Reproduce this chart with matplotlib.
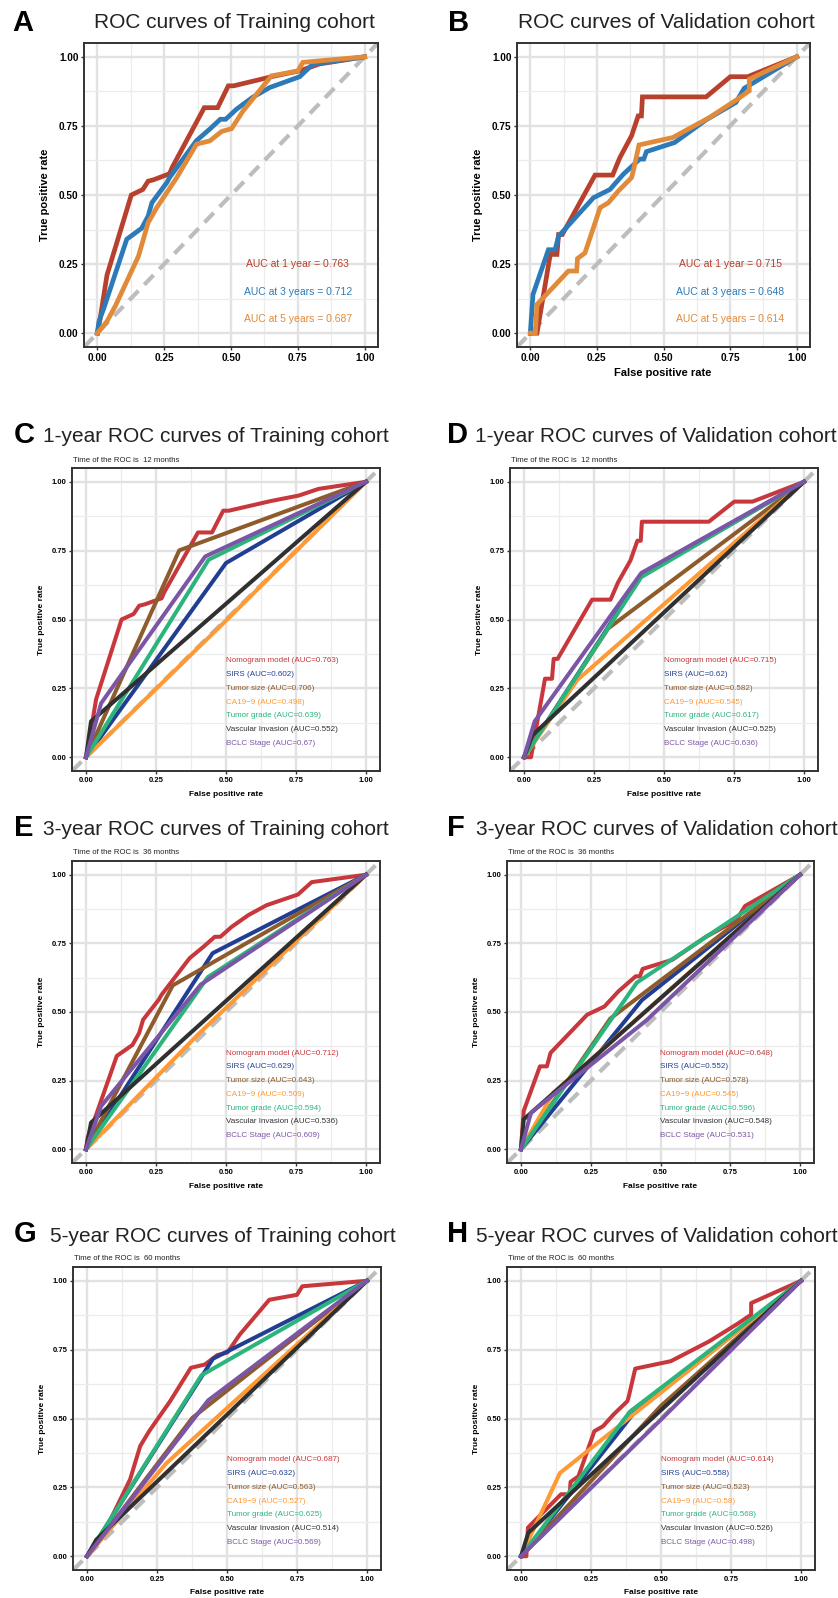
import matplotlib
matplotlib.use("Agg")
import matplotlib.pyplot as plt

plt.rcParams['font.family'] = ['Liberation Sans', 'DejaVu Sans']

W, H = 838, 1598

# Nomogram model curves (FPR, TPR)
train_1y_fpr = [0, 0.01, 0.036, 0.127, 0.17, 0.19, 0.21, 0.27, 0.28, 0.40, 0.45, 0.49, 0.51, 0.66, 0.76, 0.83, 1]
train_1y_tpr = [0, 0.05, 0.21, 0.50, 0.52, 0.55, 0.555, 0.577, 0.60, 0.816, 0.816, 0.895, 0.895, 0.93, 0.95, 0.974, 1]
train_3y_fpr = [0, 0.006, 0.024, 0.11, 0.166, 0.19, 0.204, 0.26, 0.27, 0.37, 0.42, 0.46, 0.48, 0.52, 0.58, 0.645, 0.757, 0.806, 1]
train_3y_tpr = [0, 0.043, 0.09, 0.34, 0.38, 0.424, 0.472, 0.545, 0.563, 0.696, 0.738, 0.774, 0.774, 0.81, 0.853, 0.889, 0.928, 0.973, 1]
train_5y_fpr = [0, 0.036, 0.067, 0.154, 0.19, 0.222, 0.297, 0.371, 0.421, 0.465, 0.502, 0.545, 0.651, 0.75, 0.769, 1]
train_5y_tpr = [0, 0.043, 0.098, 0.279, 0.40, 0.454, 0.563, 0.684, 0.696, 0.73, 0.74, 0.804, 0.931, 0.949, 0.98, 1]
valid_1y_fpr = [0, 0.025, 0.075, 0.1, 0.106, 0.12, 0.243, 0.309, 0.336, 0.38, 0.405, 0.417, 0.421, 0.66, 0.751, 0.816, 1]
valid_1y_tpr = [0, 0, 0.285, 0.285, 0.357, 0.357, 0.572, 0.572, 0.635, 0.714, 0.786, 0.786, 0.855, 0.855, 0.928, 0.928, 1]
valid_3y_fpr = [0, 0.01, 0.068, 0.093, 0.106, 0.237, 0.299, 0.349, 0.411, 0.426, 0.436, 0.542, 0.66, 0.772, 0.803, 1]
valid_3y_tpr = [0, 0.14, 0.302, 0.302, 0.351, 0.49, 0.52, 0.575, 0.63, 0.63, 0.657, 0.69, 0.772, 0.835, 0.886, 1]
valid_5y_fpr = [0, 0.019, 0.025, 0.143, 0.174, 0.177, 0.205, 0.262, 0.293, 0.33, 0.38, 0.385, 0.408, 0.535, 0.672, 0.772, 0.822, 0.822, 1]
valid_5y_tpr = [0, 0, 0.104, 0.225, 0.225, 0.27, 0.29, 0.454, 0.472, 0.514, 0.563, 0.58, 0.681, 0.708, 0.78, 0.843, 0.877, 0.919, 1]

year_labels = ["1 year", "3 years", "5 years"]
auc_train = [0.763, 0.712, 0.687]
auc_valid = [0.715, 0.648, 0.614]

variables = ["SIRS", "Tumor size", "CA19\u22129", "Tumor grade", "Vascular Invasion", "BCLC Stage"]

# single-factor curves per panel: (fpr, tpr)
panel_C = [([0, 0.5, 1], [0, 0.705, 1]), ([0, 0.333, 1], [0, 0.751, 1]), ([0, 0.5, 1], [0, 0.496, 1]),
           ([0, 0.438, 1], [0, 0.717, 1]), ([0, 0.018, 1], [0, 0.13, 1]), ([0, 0.054, 0.426, 1], [0, 0.196, 0.729, 1])]
panel_D = [([0, 0.419, 1], [0, 0.659, 1]), ([0, 0.3, 1], [0, 0.467, 1]), ([0, 0.19, 1], [0, 0.28, 1]),
           ([0, 0.419, 1], [0, 0.654, 1]), ([0, 0.03, 1], [0, 0.08, 1]), ([0, 0.038, 0.419, 1], [0, 0.13, 0.669, 1])]
panel_E = [([0, 0.452, 1], [0, 0.714, 1]), ([0, 0.31, 1], [0, 0.597, 1]), ([0, 0.4, 1], [0, 0.418, 1]),
           ([0, 0.435, 1], [0, 0.627, 1]), ([0, 0.018, 1], [0, 0.097, 1]), ([0, 0.054, 0.41, 1], [0, 0.157, 0.6, 1])]
panel_F = [([0, 0.433, 1], [0, 0.543, 1]), ([0, 0.32, 1], [0, 0.476, 1]), ([0, 0.117, 1], [0, 0.207, 1]),
           ([0, 0.415, 1], [0, 0.607, 1]), ([0, 0.01, 1], [0, 0.109, 1]), ([0, 0.036, 0.45, 1], [0, 0.133, 0.47, 1])]
panel_G = [([0, 0.45, 1], [0, 0.717, 1]), ([0, 0.377, 1], [0, 0.503, 1]), ([0, 0.284, 1], [0, 0.338, 1]),
           ([0, 0.409, 1], [0, 0.657, 1]), ([0, 0.033, 1], [0, 0.06, 1]), ([0, 0.433, 1], [0, 0.566, 1])]
panel_H = [([0, 0.4, 1], [0, 0.516, 1]), ([0, 0.5, 1], [0, 0.546, 1]), ([0, 0.139, 1], [0, 0.302, 1]),
           ([0, 0.389, 1], [0, 0.525, 1]), ([0, 0.026, 1], [0, 0.085, 1]), ([0, 0.5, 1], [0, 0.496, 1])]

auc_C = [0.763, 0.602, 0.706, 0.498, 0.639, 0.552, 0.67]
auc_D = [0.715, 0.62, 0.582, 0.545, 0.617, 0.525, 0.636]
auc_E = [0.712, 0.629, 0.643, 0.509, 0.594, 0.536, 0.609]
auc_F = [0.648, 0.552, 0.578, 0.545, 0.596, 0.548, 0.531]
auc_G = [0.687, 0.632, 0.563, 0.527, 0.625, 0.514, 0.569]
auc_H = [0.614, 0.558, 0.523, 0.58, 0.568, 0.526, 0.498]

year_colors = ["#B8412D", "#2C7BB8", "#E08A3A"]
var_colors = ["#C8373B", "#223E92", "#8E5B2C", "#FF9933", "#2BB47B", "#303030", "#7B55A6"]

fig = plt.figure(figsize=(W / 100, H / 100), dpi=100)


def add_ax(x0, y0, x1, y1):
    return fig.add_axes([x0 / W, 1 - y1 / H, (x1 - x0) / W, (y1 - y0) / H])


def ftext(x, y, s, **kw):
    fig.text(x / W, 1 - y / H, s, **kw)


def style_ax(ax, fs):
    ax.set_xlim(-0.05, 1.05)
    ax.set_ylim(-0.05, 1.05)
    ticks = [0, 0.25, 0.5, 0.75, 1.0]
    ax.set_xticks(ticks)
    ax.set_yticks(ticks)
    ax.set_xticks([0.125, 0.375, 0.625, 0.875], minor=True)
    ax.set_yticks([0.125, 0.375, 0.625, 0.875], minor=True)
    ax.set_xticklabels(["0.00", "0.25", "0.50", "0.75", "1.00"], fontsize=fs, fontweight="bold")
    ax.set_yticklabels(["0.00", "0.25", "0.50", "0.75", "1.00"], fontsize=fs, fontweight="bold")
    ax.grid(which="major", color="#E2E2E2", lw=1.7)
    ax.grid(which="minor", color="#ECECEC", lw=0.9)
    ax.set_axisbelow(True)
    ax.tick_params(which="major", length=2.5, width=1, color="#333333", pad=1.5)
    ax.tick_params(which="minor", length=0)
    for s in ax.spines.values():
        s.set_color("#333333")
        s.set_linewidth(1.4)
    ax.plot([-0.05, 1.05], [-0.05, 1.05], color="#BDBDBD", lw=3, dashes=(3.2, 2.0), zorder=1)


# Panels A and B
for (x0, x1), curves, aucs, letter, title in [
    ((84, 378), [(train_1y_fpr, train_1y_tpr), (train_3y_fpr, train_3y_tpr), (train_5y_fpr, train_5y_tpr)],
     auc_train, "A", "ROC curves of Training cohort"),
    ((517, 810), [(valid_1y_fpr, valid_1y_tpr), (valid_3y_fpr, valid_3y_tpr), (valid_5y_fpr, valid_5y_tpr)],
     auc_valid, "B", "ROC curves of Validation cohort")]:
    ax = add_ax(x0, 43, x1, 347)
    style_ax(ax, 7.2)
    for i, (f, t) in enumerate(curves):
        ax.plot(f, t, color=year_colors[i], lw=3.4, solid_joinstyle="miter", zorder=2 + i)
    for i, a in enumerate(aucs):
        ax.text(0.75, 0.25 - 0.1 * i, "AUC at %s = %.3f" % (year_labels[i], a), color=year_colors[i],
                ha="center", va="center", fontsize=7.5)
    ax.set_ylabel("True positive rate", fontsize=8, fontweight="bold", labelpad=6)
    ftext(x0 - 72 if letter == "A" else x0 - 69, 23, letter, fontsize=21, fontweight="bold", ha="left", va="center")
    ftext((x0 + x1) / 2 + 3, 22, title, fontsize=15, ha="center", va="center", color="#222222")
ftext(663, 373, "False positive rate", fontsize=8, fontweight="bold", ha="center", va="center")

# Panels C-H
panels = [
    ("C", "1-year ROC curves of Training cohort", 12, (72, 380), (468, 771), 43, 14, (train_1y_fpr, train_1y_tpr), panel_C, auc_C, 795),
    ("D", "1-year ROC curves of Validation cohort", 12, (510, 818), (468, 771), 475, 447, (valid_1y_fpr, valid_1y_tpr), panel_D, auc_D, 795),
    ("E", "3-year ROC curves of Training cohort", 36, (72, 380), (861, 1163), 43, 14, (train_3y_fpr, train_3y_tpr), panel_E, auc_E, 1186),
    ("F", "3-year ROC curves of Validation cohort", 36, (507, 814), (861, 1163), 476, 447, (valid_3y_fpr, valid_3y_tpr), panel_F, auc_F, 1186),
    ("G", "5-year ROC curves of Training cohort", 60, (73, 381), (1267, 1570), 50, 14, (train_5y_fpr, train_5y_tpr), panel_G, auc_G, 1592),
    ("H", "5-year ROC curves of Validation cohort", 60, (507, 815), (1267, 1570), 476, 447, (valid_5y_fpr, valid_5y_tpr), panel_H, auc_H, 1592),
]

for letter, title, months, (x0, x1), (y0, y1), tx, lx, nomo, others, aucs, xly in panels:
    ax = add_ax(x0, y0, x1, y1)
    style_ax(ax, 5.5)
    ax.plot(nomo[0], nomo[1], color=var_colors[0], lw=2.9, zorder=2)
    for i, (f, t) in enumerate(others):
        ax.plot(f, t, color=var_colors[i + 1], lw=2.9, zorder=3 + i)
    names = ["Nomogram model"] + variables
    for i, (n, a) in enumerate(zip(names, aucs)):
        ax.text(0.5, 0.35 - 0.05 * i, "%s (AUC=%s)" % (n, ("%.3f" % a).rstrip("0")), color=var_colors[i],
                ha="left", va="center", fontsize=5.8)
    ax.set_ylabel("True positive rate", fontsize=6, fontweight="bold", labelpad=5)
    ftext(x0 + 1, y0 - 8, "Time of the ROC is  %d months" % months, fontsize=5.6, ha="left", va="center", color="#222222")
    ftext(tx, y0 - 31, title, fontsize=15, ha="left", va="center", color="#222222")
    ftext(lx, y0 - 33, letter, fontsize=21, fontweight="bold", ha="left", va="center")
    ftext((x0 + x1) / 2, xly, "False positive rate", fontsize=6, fontweight="bold", ha="center", va="center")

fig.savefig("out.png", dpi=100, facecolor="white")
